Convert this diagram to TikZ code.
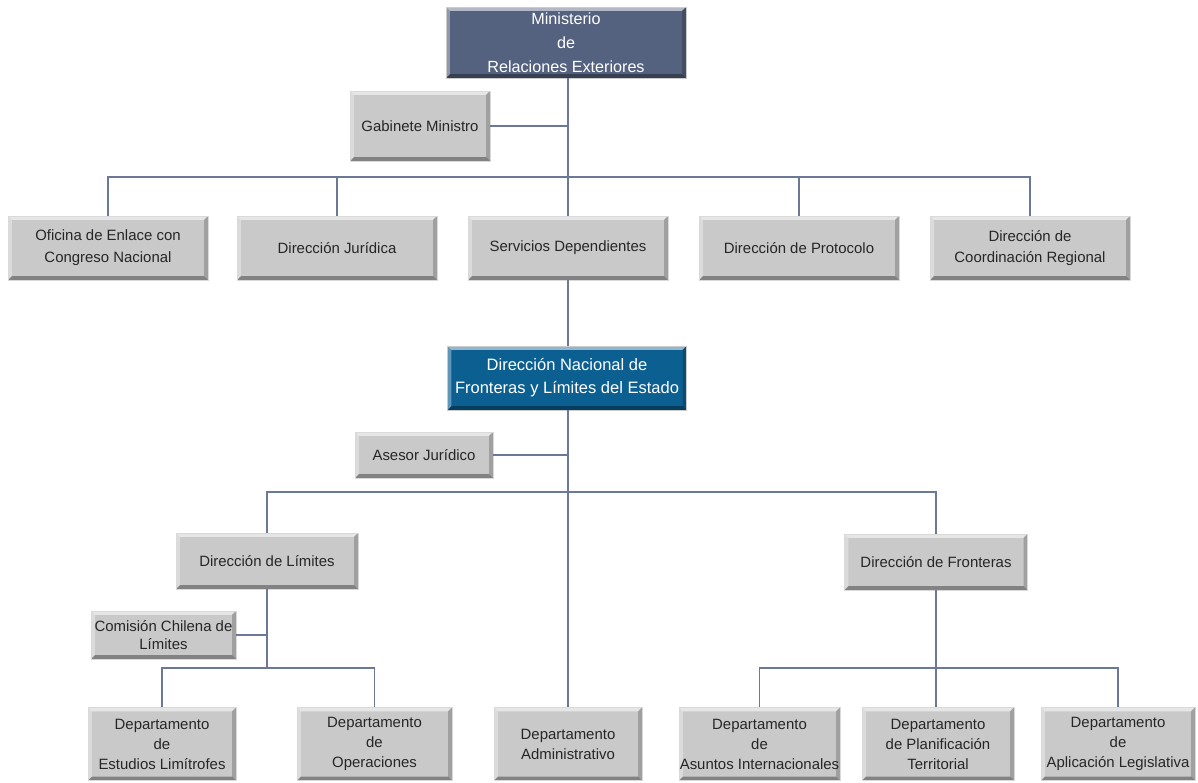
\documentclass[tikz,border=0pt]{standalone}
\usepackage{fontspec}
\setmainfont{Liberation Sans}
\usetikzlibrary{positioning}
\definecolor{lineC}{HTML}{6B7897}
\definecolor{boxG}{HTML}{C9C9C9}
\definecolor{minC}{HTML}{55627F}
\definecolor{dnC}{HTML}{0C5F91}
\tikzset{
  bevel/.style={path picture={
    \def\bv{2.2pt}
    \fill[white,opacity=.55] (path picture bounding box.north west) -- (path picture bounding box.north east) -- ([xshift=-\bv,yshift=-\bv]path picture bounding box.north east) -- ([xshift=\bv,yshift=-\bv]path picture bounding box.north west) -- cycle;
    \fill[white,opacity=.35] (path picture bounding box.north west) -- ([xshift=\bv,yshift=-\bv]path picture bounding box.north west) -- ([xshift=\bv,yshift=\bv]path picture bounding box.south west) -- (path picture bounding box.south west) -- cycle;
    \fill[black,opacity=.35] (path picture bounding box.south west) -- (path picture bounding box.south east) -- ([xshift=-\bv,yshift=\bv]path picture bounding box.south east) -- ([xshift=\bv,yshift=\bv]path picture bounding box.south west) -- cycle;
    \fill[black,opacity=.2] (path picture bounding box.north east) -- ([xshift=-\bv,yshift=-\bv]path picture bounding box.north east) -- ([xshift=-\bv,yshift=\bv]path picture bounding box.south east) -- (path picture bounding box.south east) -- cycle;
  }},
  graybox/.style={bevel, fill=boxG, draw=black!15, line width=0.4pt, align=center, inner sep=0pt,
    font=\fontsize{8.5}{11}\selectfont, text=black!85},
  topbox/.style={bevel, fill=minC, draw=black!20, align=center, inner sep=0pt,
    font=\fontsize{9.2}{13.6}\selectfont, text=white},
  dnbox/.style={bevel, fill=dnC, draw=black!20, align=center, inner sep=0pt,
    font=\fontsize{9.4}{13}\selectfont, text=white},
  conn/.style={draw=lineC, line width=0.75pt},
}
\begin{document}
\begin{tikzpicture}[x=0.02cm,y=-0.02cm]
\useasboundingbox (0,0) rectangle (1198,783);
% top
\node[topbox, minimum width=4.8cm, minimum height=1.42cm] (min) at (566,42.5) {Ministerio\\de\\Relaciones Exteriores};
\node[graybox, minimum width=2.8cm, minimum height=1.4cm] (gab) at (420,126) {Gabinete Ministro};
% row 2
\node[graybox, minimum width=4cm, minimum height=1.28cm, font=\fontsize{8.5}{12.4}\selectfont] (ofi) at (108,248) {Oficina de Enlace con\\Congreso Nacional};
\node[graybox, minimum width=4cm, minimum height=1.28cm] (jur) at (337,248) {Dirección Jurídica};
\node[graybox, minimum width=4cm, minimum height=1.28cm] (ser) at (568,248) {Servicios Dependientes};
\node[graybox, minimum width=4cm, minimum height=1.28cm] (pro) at (799,248) {Dirección de Protocolo};
\node[graybox, minimum width=4cm, minimum height=1.28cm, font=\fontsize{8.5}{12.4}\selectfont] (coo) at (1030,248) {Dirección de\\Coordinación Regional};
% DN
\node[dnbox, minimum width=4.78cm, minimum height=1.28cm] (dn) at (567,378) {Dirección Nacional de\\Fronteras y Límites del Estado};
\node[graybox, minimum width=2.76cm, minimum height=0.92cm] (ase) at (424,455) {Asesor Jurídico};
% level 3
\node[graybox, minimum width=3.64cm, minimum height=1.12cm] (lim) at (267,561) {Dirección de Límites};
\node[graybox, minimum width=3.66cm, minimum height=1.12cm] (fro) at (936,562) {Dirección de Fronteras};
\node[graybox, minimum width=2.9cm, minimum height=0.96cm, font=\fontsize{8.5}{10.6}\selectfont] (com) at (163.5,635) {Comisión Chilena de\\Límites};
% bottom
\tikzset{bot/.style={graybox, minimum height=1.46cm, font=\fontsize{8.5}{11.4}\selectfont}}
\node[bot, minimum width=2.96cm] (est) at (162,744) {Departamento\\de\\Estudios Limítrofes};
\node[bot, minimum width=3.1cm] (ope) at (374.5,744) {Departamento\\de\\Operaciones};
\node[bot, minimum width=2.96cm] (adm) at (568,744) {Departamento\\Administrativo};
\node[bot, minimum width=3.22cm] (ain) at (759.5,744) {Departamento\\de\\Asuntos Internacionales};
\node[bot, minimum width=3.04cm] (pla) at (938,744) {Departamento\\de Planificación\\Territorial};
\node[bot, minimum width=3.08cm] (apl) at (1118,744) {Departamento\\de\\Aplicación Legislativa};
% connectors
\coordinate (b1) at (568,177);
\coordinate (b2) at (568,492);
\coordinate (bl) at (267,668);
\coordinate (bf) at (936,668);
\draw[conn] (min.south -| ser.north) -- (ser.north);
\draw[conn] (gab.east) -- (gab.east -| ser.north);
\draw[conn] (ofi.north) |- (b1) -| (coo.north);
\draw[conn] (jur.north) -- (jur.north |- b1);
\draw[conn] (pro.north) -- (pro.north |- b1);
\draw[conn] (ser.south) -- (ser.south |- dn.north);
\draw[conn] (dn.south -| adm.north) -- (adm.north);
\draw[conn] (ase.east) -- (ase.east -| adm.north);
\draw[conn] (lim.north) |- (b2) -| (fro.north);
\draw[conn] (lim.south) -- (bl);
\draw[conn] (com.east) -- (com.east -| lim.south);
\draw[conn] (est.north) |- (bl) -| (ope.north);
\draw[conn] (fro.south) -- (bf);
\draw[conn] (ain.north) |- (bf) -| (apl.north);
\draw[conn] (bf) -- (bf |- pla.north);
\end{tikzpicture}
\end{document}
